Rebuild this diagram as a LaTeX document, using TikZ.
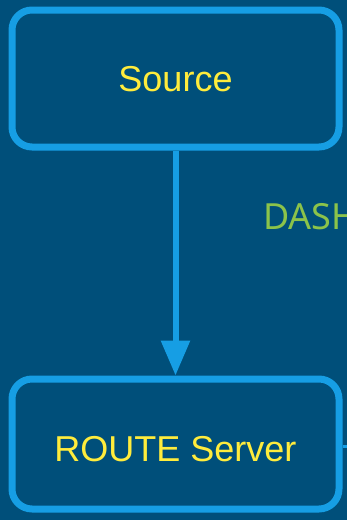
\documentclass[tikz,border=0pt]{standalone}
\usepackage{fontspec}
\setmainfont{Liberation Sans}
\newfontfamily\labelfont{Noto Sans}
\usetikzlibrary{positioning,arrows.meta}
\definecolor{bgblue}{RGB}{0,79,122}
\definecolor{lineblue}{RGB}{22,158,228}
\definecolor{textyellow}{RGB}{255,236,60}
\definecolor{labelgreen}{RGB}{139,195,74}
\begin{document}
\begin{tikzpicture}[
                        node distance=225pt,
                        >={Triangle[width=28pt,length=35pt]},
                        block/.style={rectangle, draw=lineblue, line width=7pt, rounded corners=20pt,
                                      minimum width=327pt, text=textyellow, text height=26pt, text depth=0pt,
                                      font=\fontsize{36pt}{40pt}\selectfont}
                    ]
                    \fill[bgblue] (0,0) rectangle (347pt,-520pt);
                    \useasboundingbox (0,0) rectangle (347pt,-520pt);
                    % Blocks
                    \node [block, minimum height=137pt] (source) at (175.5pt,-78.5pt) {Source};
                    \node [block, minimum height=130pt, below=of source] (route) {\raisebox{-4pt}{ROUTE Server}};
                    \node [anchor=base west, inner sep=0pt, text=labelgreen,
                           font=\labelfont\fontsize{36pt}{40pt}\selectfont] (dash) at (263pt,-229pt) {DASH};
                    \coordinate (out) at (380pt,-446pt);

                    % Connections
                    \draw [->, lineblue, line width=6pt] (source) -- (route);
                    \draw [lineblue, line width=3pt] ([yshift=-2pt]route.east) -- (out);
                \end{tikzpicture}
\end{document}
